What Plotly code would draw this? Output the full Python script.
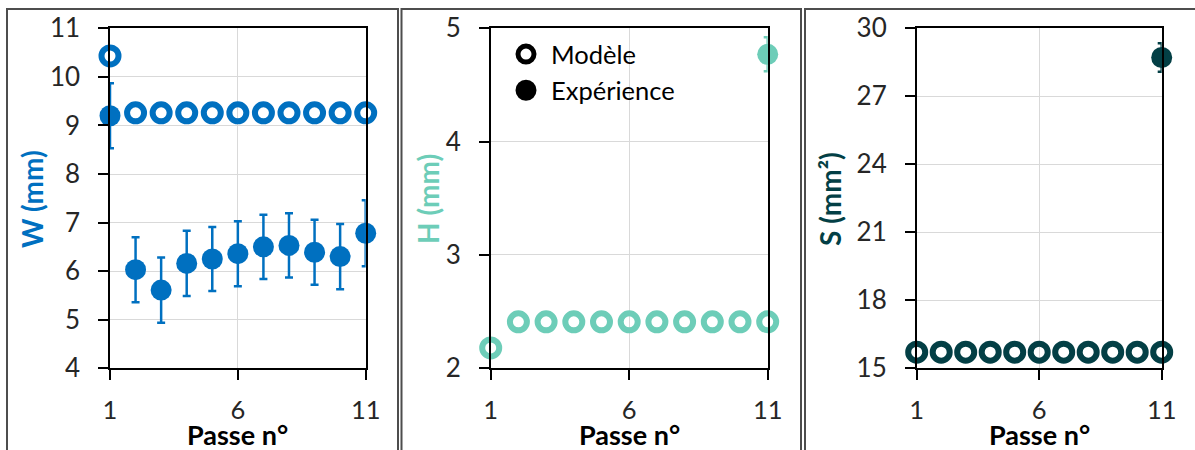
import plotly.graph_objects as go

# ---------------- data ----------------
passes = [1, 2, 3, 4, 5, 6, 7, 8, 9, 10, 11]

W_model = [10.43, 9.26, 9.26, 9.26, 9.26, 9.26, 9.26, 9.26, 9.26, 9.26, 9.26]
W_exp = [9.20, 6.03, 5.61, 6.16, 6.25, 6.36, 6.50, 6.53, 6.39, 6.30, 6.78]
W_err = [0.67, 0.67, 0.67, 0.67, 0.66, 0.67, 0.66, 0.66, 0.67, 0.67, 0.68]

H_model = [2.18, 2.41, 2.41, 2.41, 2.41, 2.41, 2.41, 2.41, 2.41, 2.41, 2.41]
H_exp_x = [11]
H_exp = [4.77]
H_err = [0.15]

S_model = [15.71, 15.71, 15.71, 15.71, 15.71, 15.71, 15.71, 15.71, 15.71, 15.71, 15.71]
S_exp_x = [11]
S_exp = [28.71]
S_err = [0.63]

legend_labels = ["Modèle", "Expérience"]
y_titles = ["W (mm)", "H (mm)", "S (mm²)"]
x_title = "Passe n°"

# ---------------- style ----------------
C_W = "#0070C0"
C_H = "#6DCDB8"
C_S = "#033F45"
FONT = "Lato"
TICK_COLOR = "#262626"
W_PX, H_PX = 1195, 450

y_dom = [1 - 368.3 / H_PX, 1 - 28.3 / H_PX]
x_doms = [[110 / W_PX, 365.7 / W_PX], [490.7 / W_PX, 767.7 / W_PX], [916.7 / W_PX, 1161.7 / W_PX]]
y_ranges = [[4, 11], [2, 5], [15, 30]]
y_dticks = [1, 1, 3]
y_minor = [1, 0.25, 0.5]
colors = [C_W, C_H, C_S]
title_x = [32, 428, 830]

fig = go.Figure()

panels = [
    (passes, W_exp, W_err, W_model, C_W),
    (H_exp_x, H_exp, H_err, H_model, C_H),
    (S_exp_x, S_exp, S_err, S_model, C_S),
]

for i, (ex, ey, ee, my, col) in enumerate(panels):
    xa = "x" if i == 0 else f"x{i+1}"
    ya = "y" if i == 0 else f"y{i+1}"
    fig.add_trace(go.Scatter(
        x=ex, y=ey, mode="markers", xaxis=xa, yaxis=ya, showlegend=False,
        cliponaxis=False,
        marker=dict(symbol="circle", size=21, color=col, line=dict(width=0)),
        error_y=dict(type="data", array=ee, visible=True, color=col, thickness=2.5, width=4),
    ))
    fig.add_trace(go.Scatter(
        x=passes, y=my, mode="markers", xaxis=xa, yaxis=ya, showlegend=False,
        cliponaxis=False,
        marker=dict(symbol="circle-open", size=17, color=col, line=dict(width=6, color=col)),
    ))

# legend entries (generic black)
fig.add_trace(go.Scatter(
    x=[None], y=[None], mode="markers", xaxis="x2", yaxis="y2", name=legend_labels[0],
    marker=dict(symbol="circle-open", size=16, color="black", line=dict(width=5, color="black")),
))
fig.add_trace(go.Scatter(
    x=[None], y=[None], mode="markers", xaxis="x2", yaxis="y2", name=legend_labels[1],
    marker=dict(symbol="circle", size=16, color="black", line=dict(width=5, color="black")),
))

layout = dict(
    width=W_PX, height=H_PX,
    margin=dict(l=0, r=0, t=0, b=0, pad=0, autoexpand=False),
    paper_bgcolor="white", plot_bgcolor="white",
    font=dict(family=FONT, size=25, color=TICK_COLOR),
    legend=dict(x=(523 - 22) / W_PX, y=1 - 31 / H_PX, xanchor="left", yanchor="top",
                bgcolor="rgba(0,0,0,0)", font=dict(size=25.5, color="black"),
                itemsizing="trace", itemwidth=40, tracegroupgap=0),
    annotations=[], shapes=[],
)

for i in range(3):
    n = i + 1
    xk = "xaxis" if i == 0 else f"xaxis{n}"
    yk = "yaxis" if i == 0 else f"yaxis{n}"
    xa_ref = "x" if i == 0 else f"x{n}"
    ya_ref = "y" if i == 0 else f"y{n}"
    layout[xk] = dict(
        domain=x_doms[i], anchor=ya_ref, range=[1, 11], tick0=1, dtick=5,
        showline=True, linecolor="black", linewidth=1.5, mirror=True,
        showgrid=True, gridcolor="#D9D9D9", gridwidth=1.2, zeroline=False,
        ticks="outside", ticklen=10, tickwidth=1.5, tickcolor="black",
        ticklabelstandoff=8, tickfont=dict(size=25.5, color=TICK_COLOR),
        fixedrange=True, automargin=False,
    )
    layout[yk] = dict(
        domain=y_dom, anchor=xa_ref, range=y_ranges[i], tick0=y_ranges[i][0], dtick=y_dticks[i],
        showline=True, linecolor="black", linewidth=1.5, mirror=True,
        showgrid=True, gridcolor="#D9D9D9", gridwidth=1.2, zeroline=False,
        ticks="outside", ticklen=10, tickwidth=1.5, tickcolor="black",
        ticklabelstandoff=13, tickfont=dict(size=26, color=TICK_COLOR),
        fixedrange=True, automargin=False,
    )
    # overlay axes for inside ticks
    ox = f"xaxis{n+3}"
    oy = f"yaxis{n+3}"
    layout[ox] = dict(
        overlaying=xa_ref, anchor=ya_ref, range=[1, 11], tick0=1, dtick=1,
        showline=False, showgrid=False, zeroline=False, showticklabels=False,
        ticks="inside", ticklen=8, tickwidth=1.5, tickcolor="black", fixedrange=True,
        automargin=False,
    )
    layout[oy] = dict(
        overlaying=ya_ref, anchor=xa_ref, range=y_ranges[i], tick0=y_ranges[i][0], dtick=y_minor[i],
        showline=False, showgrid=False, zeroline=False, showticklabels=False,
        ticks="inside", ticklen=8, tickwidth=1.5, tickcolor="black", fixedrange=True,
        automargin=False,
    )
    # axis titles
    layout["annotations"].append(dict(
        text=f"<b>{y_titles[i]}</b>", xref="paper", yref="paper",
        x=title_x[i] / W_PX, y=1 - 199 / H_PX, xanchor="center", yanchor="middle",
        textangle=-90, showarrow=False, font=dict(size=28, color=colors[i], family=FONT),
    ))
    layout["annotations"].append(dict(
        text=f"<b>{x_title}</b>", xref="paper", yref="paper",
        x=(x_doms[i][0] + x_doms[i][1]) / 2, y=1 - 434.5 / H_PX, xanchor="center", yanchor="middle",
        showarrow=False, font=dict(size=27, color="black", family=FONT),
    ))

# panel frames
frames = [(7, 398), (401.5, 801), (805, 1200)]
for x0, x1 in frames:
    layout["shapes"].append(dict(
        type="rect", xref="paper", yref="paper",
        x0=x0 / W_PX, x1=x1 / W_PX, y0=-0.1, y1=1 - 9 / H_PX,
        line=dict(color="#4D4D4D", width=2), fillcolor="rgba(0,0,0,0)", layer="below",
    ))

fig.update_layout(**layout)
fig.write_html("out.html", config={"displayModeBar": False},
               post_script="document.body.style.margin='0px';")
